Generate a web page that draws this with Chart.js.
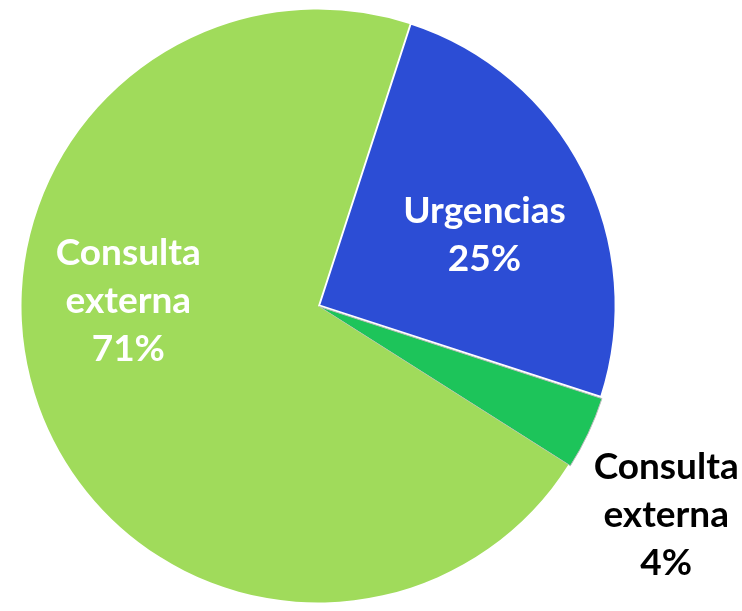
<!DOCTYPE html>
<html><head><meta charset="utf-8">
<script src="https://cdn.jsdelivr.net/npm/chart.js@4.4.0/dist/chart.umd.min.js"></script>
<style>html,body{margin:0;padding:0;background:#fff}#wrap{width:742px;height:611px}</style>
</head><body><div id="wrap"><canvas id="c" width="742" height="611"></canvas></div>
<script>
const categories = ["Urgencias", "Consulta externa", "Consulta externa"];
const values = [25, 4, 71];
const percentLabels = ["25%", "4%", "71%"];
const colors = ["#2C4DD5", "#1DC45A", "#A0DB5B"];

// label placement: angle from 12 o'clock (deg) and distance as fraction of radius
const labelPlace = [
  {ang: 67, dist: 0.61, color: "#ffffff", lines: ["Urgencias", "25%"]},
  {ang: 121, dist: 1.37, color: "#000000", lines: ["Consulta", "externa", "4%"]},
  {ang: 271.5, dist: 0.64, color: "#ffffff", lines: ["Consulta", "externa", "71%"]}
];

const labelPlugin = {
  id: 'sliceLabels',
  afterDatasetsDraw(chart) {
    const ctx = chart.ctx;
    const meta = chart.getDatasetMeta(0);
    meta.data.forEach((arc, i) => {
      const p = labelPlace[i];
      const a = (p.ang - 90) * Math.PI / 180;
      const r = arc.outerRadius * p.dist;
      const cx = chart.chartArea.left + chart.chartArea.width / 2;
      const cy = chart.chartArea.top + chart.chartArea.height / 2;
      const x = cx + Math.cos(a) * r;
      const y = cy + Math.sin(a) * r;
      ctx.save();
      ctx.font = "bold 37px Lato";
      ctx.fillStyle = p.color;
      ctx.textAlign = "center";
      ctx.textBaseline = "middle";
      const lh = 48;
      const n = p.lines.length;
      p.lines.forEach((t, k) => {
        ctx.fillText(t, x, y + (k - (n - 1) / 2) * lh);
      });
      ctx.restore();
    });
  }
};

new Chart(document.getElementById('c'), {
  type: 'pie',
  data: {
    labels: categories,
    datasets: [{
      data: values,
      backgroundColor: colors,
      borderColor: ["#ffffff", "#bdbdbd", "#A0DB5B"],
      borderWidth: [2, 1, 0],
      offset: [5, 5, 0]
    }]
  },
  options: {
    responsive: false,
    animation: false,
    rotation: 18,
    layout: {padding: {left: 17, right: 123, top: 6, bottom: 5}},
    plugins: {legend: {display: false}, tooltip: {enabled: false}}
  },
  plugins: [labelPlugin]
});
</script></body></html>
